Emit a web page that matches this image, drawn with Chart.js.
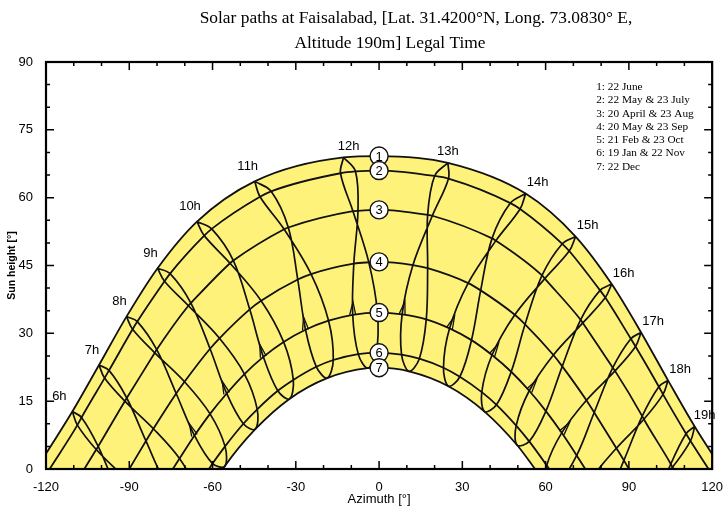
<!DOCTYPE html>
<html>
<head>
<meta charset="utf-8">
<script src="https://cdn.jsdelivr.net/npm/chart.js@4.4.1/dist/chart.umd.min.js"></script>
<style>
  html, body { margin: 0; padding: 0; background: #fff; }
  #wrap { width: 726px; height: 510px; }
</style>
</head>
<body>
<div id="wrap"><canvas id="sunChart" width="726" height="510"></canvas></div>
<script>
// legal-time hours that get an hour line
const hours = [6, 7, 8, 9, 10, 11, 12, 13, 14, 15, 16, 17, 18, 19];

// sun position at each of those hours: azimuth and height in degrees
const junAz  = [-110.5, -100.9, -91.0, -79.8, -65.6, -44.8, -12.8, 24.8, 52.8, 70.8, 83.8, 94.4, 104.1, 113.7];
const junAlt = [12.7, 23.0, 33.7, 44.4, 54.7, 63.6, 68.9, 67.7, 60.9, 51.4, 40.9, 30.2, 19.6, 9.4];
const mayAz  = [-107.2, -97.3, -87.1, -75.3, -60.3, -38.9, -8.5, 25.0, 50.8, 68.5, 81.5, 92.4, 102.3, 112.2];
const mayAlt = [11.4, 21.8, 32.6, 43.2, 53.1, 61.4, 65.8, 64.2, 57.5, 48.2, 37.9, 27.1, 16.5, 6.2];
const julAz  = [-108.7, -98.9, -88.8, -77.3, -63.0, -42.9, -13.9, 20.0, 47.3, 66.0, 79.6, 90.7, 100.8, 110.6];
const julAlt = [9.7, 20.1, 30.9, 41.5, 51.6, 60.2, 65.4, 64.8, 58.8, 49.8, 39.5, 28.8, 18.2, 7.8];
const aprAz  = [-101.2, -90.9, -80.1, -67.8, -52.5, -32.7, -7.6, 19.2, 42.1, 59.7, 73.4, 85.0, 95.4, 105.7];
const aprAlt = [5.0, 15.7, 26.4, 36.7, 46.1, 53.4, 57.1, 56.0, 50.5, 42.1, 32.3, 21.7, 11.0, 0.4];
const augAz  = [-101.9, -91.6, -80.8, -68.7, -53.7, -34.2, -9.4, 17.5, 40.7, 58.7, 72.6, 84.2, 94.8, 105.1];
const augAlt = [4.3, 15.0, 25.7, 36.1, 45.5, 53.0, 57.0, 56.2, 51.0, 42.8, 33.0, 22.4, 11.7, 1.1];
const marAz  = [-94.5, -84.0, -73.1, -60.9, -46.6, -29.3, -9.1, 12.2, 32.1, 48.9, 62.8, 74.7, 85.5, 96.0];
const marAlt = [-4.6, 6.2, 16.7, 26.6, 35.3, 41.9, 45.4, 45.1, 41.1, 34.1, 25.2, 15.2, 4.6, -6.2];
const sepAz  = [-91.8, -81.3, -70.1, -57.5, -42.5, -24.5, -3.7, 17.5, 36.6, 52.6, 66.0, 77.5, 88.2, 98.7];
const sepAlt = [-1.9, 8.9, 19.3, 28.9, 37.2, 43.1, 45.7, 44.4, 39.5, 32.0, 22.7, 12.5, 1.9, -8.9];
const febAz  = [-87.4, -77.1, -66.5, -54.9, -41.7, -26.5, -9.5, 8.3, 25.4, 40.7, 54.1, 65.8, 76.4, 86.7];
const febAlt = [-13.5, -2.9, 7.4, 16.7, 24.8, 30.8, 34.1, 34.2, 31.1, 25.2, 17.3, 8.0, -2.2, -12.8];
const octAz  = [-82.3, -71.9, -60.9, -48.5, -34.4, -18.2, -0.6, 17.0, 33.3, 47.6, 60.1, 71.2, 81.6, 91.9];
const octAlt = [-8.1, 2.3, 12.2, 21.0, 28.1, 32.8, 34.6, 33.1, 28.5, 21.5, 12.8, 3.0, -7.4, -18.1];
const janAz  = [-80.0, -70.2, -60.0, -48.9, -36.5, -22.6, -7.5, 8.1, 23.2, 37.0, 49.4, 60.4, 70.6, 80.4];
const janAlt = [-18.9, -8.5, 1.2, 10.0, 17.3, 22.6, 25.4, 25.3, 22.4, 17.0, 9.6, 0.8, -8.9, -19.3];
const novAz  = [-76.0, -66.1, -55.5, -43.9, -30.9, -16.5, -1.0, 14.5, 29.1, 42.3, 54.1, 64.7, 74.7, 84.5];
const novAlt = [-14.6, -4.4, 5.0, 13.2, 19.7, 24.1, 25.7, 24.4, 20.4, 14.2, 6.1, -3.1, -13.2, -23.7];
const decAz  = [-75.3, -65.7, -55.6, -44.6, -32.3, -18.7, -4.1, 10.8, 25.0, 38.0, 49.7, 60.3, 70.1, 79.7];
const decAlt = [-18.9, -8.8, 0.6, 8.8, 15.5, 20.1, 22.3, 21.6, 18.3, 12.7, 5.3, -3.6, -13.3, -23.7];

// day curves 1..7: height at azimuth 0 (numbered circles) and azimuth where they meet the horizon
const noonAlt   = [69.2, 66.0, 57.3, 45.8, 34.6, 25.7, 22.4];
const horizonAz = [123.5, 118.7, 106.2, 90.0, 74.3, 61.3, 56.2];
const dayNames = [
    "1: 22 June",
    "2: 22 May & 23 July",
    "3: 20 April & 23 Aug",
    "4: 20 May & 23 Sep",
    "5: 21 Feb & 23 Oct",
    "6: 19 Jan & 22 Nov",
    "7: 22 Dec"
];

const titleLines = ["Solar paths at Faisalabad, [Lat. 31.4200\u00b0N, Long. 73.0830\u00b0 E,", "Altitude 190m] Legal Time"];

const yellow = "#fff27a";
const ink = "#111";

const toPts = (az, alt) => az.map((x, i) => ({ x: x, y: alt[i] }));
const jun = toPts(junAz, junAlt), may = toPts(mayAz, mayAlt), jul = toPts(julAz, julAlt);
const apr = toPts(aprAz, aprAlt), aug = toPts(augAz, augAlt);
const mar = toPts(marAz, marAlt), sep = toPts(sepAz, sepAlt);
const feb = toPts(febAz, febAlt), oct = toPts(octAz, octAlt);
const jan = toPts(janAz, janAlt), nov = toPts(novAz, novAlt);
const dec = toPts(decAz, decAlt);

const dayMembers = [[jun], [may, jul], [apr, aug], [mar, sep], [feb, oct], [jan, nov], [dec]];
const loopOrder = [jun, jul, aug, sep, oct, nov, dec, jan, feb, mar, apr, may, jun];

// one day curve: all its hour points above the horizon, the noon point and both horizon ends
function dayCurve(k) {
    const p = [{ x: -horizonAz[k], y: 0 }, { x: 0, y: noonAlt[k] }, { x: horizonAz[k], y: 0 }];
    dayMembers[k].forEach(d => d.forEach(q => { if (q.y > 0) p.push({ x: q.x, y: q.y }); }));
    return p.sort((a, b) => a.x - b.x);
}

// one hour line: the same hour through the year, June -> December -> June
function hourLoop(i) {
    return loopOrder.map(d => ({ x: d[i].x, y: d[i].y }));
}

const dayStyle = { borderColor: ink, borderWidth: 1.8, cubicInterpolationMode: "monotone", pointRadius: 0 };

const datasets = [];
datasets.push(Object.assign({ data: dayCurve(6), fill: "origin", backgroundColor: "#ffffff", order: 0 }, dayStyle));
datasets.push(Object.assign({ data: dayCurve(0), fill: "origin", backgroundColor: yellow, order: 1 }, dayStyle));
for (let k = 1; k < 6; k++) {
    datasets.push(Object.assign({ data: dayCurve(k), fill: false, order: 1 }, dayStyle));
}
hours.forEach((h, i) => {
    datasets.push({ data: hourLoop(i), fill: false, order: 1, tension: 0.35, borderColor: ink, borderWidth: 1.7, pointRadius: 0 });
});
datasets.push({
    data: noonAlt.map(v => ({ x: 0, y: v })),
    showLine: false, order: -1,
    pointRadius: 9, pointBackgroundColor: "#ffffff", pointBorderColor: ink, pointBorderWidth: 1.4
});

// labels, arrows and the boxed frame with inward ticks
const decorations = {
    id: "decorations",
    afterDatasetsDraw(chart) {
        const { ctx, chartArea: a, scales: { x, y } } = chart;
        ctx.save();

        // direction arrows on the rising (Feb) branch of each hour line
        ctx.strokeStyle = ink;
        ctx.lineWidth = 1.3;
        hours.forEach((h, i) => {
            if (febAlt[i] <= 0) return;
            const x0 = x.getPixelForValue(febAz[i]), y0 = y.getPixelForValue(febAlt[i]);
            const x1 = x.getPixelForValue(marAz[i]), y1 = y.getPixelForValue(marAlt[i]);
            const d = Math.hypot(x1 - x0, y1 - y0);
            const ux = (x1 - x0) / d, uy = (y1 - y0) / d;
            ctx.beginPath();
            ctx.moveTo(x0 - uy * 3, y0 + ux * 3);
            ctx.lineTo(x0 + ux * 13, y0 + uy * 13);
            ctx.lineTo(x0 + uy * 3, y0 - ux * 3);
            ctx.stroke();
        });

        // numbers in the circles
        ctx.fillStyle = "#000";
        ctx.font = "13px 'Liberation Sans', Arial, sans-serif";
        ctx.textAlign = "center";
        ctx.textBaseline = "middle";
        noonAlt.forEach((v, k) => {
            ctx.fillText(String(k + 1), x.getPixelForValue(0), y.getPixelForValue(v) + 1);
        });

        // frame and inward ticks on all four sides
        ctx.strokeStyle = "#000";
        ctx.lineWidth = 1.5;
        ctx.beginPath();
        for (let v = -120; v <= 120; v += 10) {
            const px = x.getPixelForValue(v);
            const len = v % 30 === 0 ? 8 : 4;
            ctx.moveTo(px, a.bottom); ctx.lineTo(px, a.bottom - len);
            ctx.moveTo(px, a.top); ctx.lineTo(px, a.top + len);
        }
        for (let v = 0; v <= 90; v += 5) {
            const py = y.getPixelForValue(v);
            const len = v % 15 === 0 ? 8 : 4;
            ctx.moveTo(a.left, py); ctx.lineTo(a.left + len, py);
            ctx.moveTo(a.right, py); ctx.lineTo(a.right - len, py);
        }
        ctx.stroke();
        ctx.lineWidth = 2.2;
        ctx.strokeRect(a.left, a.top, a.right - a.left, a.bottom - a.top);
        ctx.restore();
    },
    afterDraw(chart) {
        const { ctx, chartArea: a, scales: { x, y } } = chart;
        ctx.save();
        ctx.fillStyle = "#000";
        ctx.textBaseline = "middle";

        // title
        ctx.textAlign = "center";
        ctx.font = "17.4px 'Liberation Serif', 'Times New Roman', serif";
        ctx.fillText(titleLines[0], 416, 18);
        ctx.fillText(titleLines[1], 390, 43);

        // key of the day curves
        ctx.textAlign = "left";
        ctx.font = "11.3px 'Liberation Serif', 'Times New Roman', serif";
        dayNames.forEach((s, k) => ctx.fillText(s, a.right - 116, a.top + 25 + k * 13.3));

        // hour labels next to the top of each hour line
        ctx.textAlign = "center";
        ctx.font = "13px 'Liberation Sans', Arial, sans-serif";
        hours.forEach((h, i) => {
            let dx = h < 12 ? -7 : h === 12 ? 5 : h === 13 ? 0 : 12;
            if (h === 6) dx = -13;
            if (h === 19) dx = 10;
            const dy = h < 12 ? -15 : -11;
            ctx.fillText(h + "h", x.getPixelForValue(junAz[i]) + dx, y.getPixelForValue(junAlt[i]) + dy);
        });
        ctx.restore();
    }
};

Chart.defaults.font.family = "'Liberation Sans', Arial, sans-serif";
Chart.defaults.color = "#000";

const ctx = document.getElementById("sunChart").getContext("2d");
new Chart(ctx, {
    type: "line",
    data: { datasets: datasets },
    options: {
        responsive: false,
        animation: false,
        events: [],
        layout: { padding: { top: 62, right: 13, bottom: 0, left: 0 } },
        elements: { point: { radius: 0 }, line: { capBezierPoints: false } },
        plugins: {
            legend: { display: false },
            tooltip: { enabled: false },
            filler: { drawTime: "beforeDatasetsDraw" }
        },
        scales: {
            x: {
                type: "linear",
                min: -120,
                max: 120,
                grid: { display: false },
                border: { display: false },
                ticks: { stepSize: 30, padding: 3, font: { size: 13 }, color: "#000" },
                title: { display: true, text: "Azimuth [\u00b0]", font: { size: 13 }, color: "#000", padding: { top: 0, bottom: 3 } },
                afterFit: s => { s.height = 41; }
            },
            y: {
                type: "linear",
                min: 0,
                max: 90,
                grid: { display: false },
                border: { display: false },
                ticks: { stepSize: 15, padding: 5, font: { size: 13 }, color: "#000" },
                title: { display: true, text: "Sun height [\u00b0]", font: { size: 10.5, weight: "bold" }, color: "#000", padding: { top: 6, bottom: 0 } },
                afterFit: s => { s.width = 46; }
            }
        }
    },
    plugins: [decorations]
});
</script>
</body>
</html>
